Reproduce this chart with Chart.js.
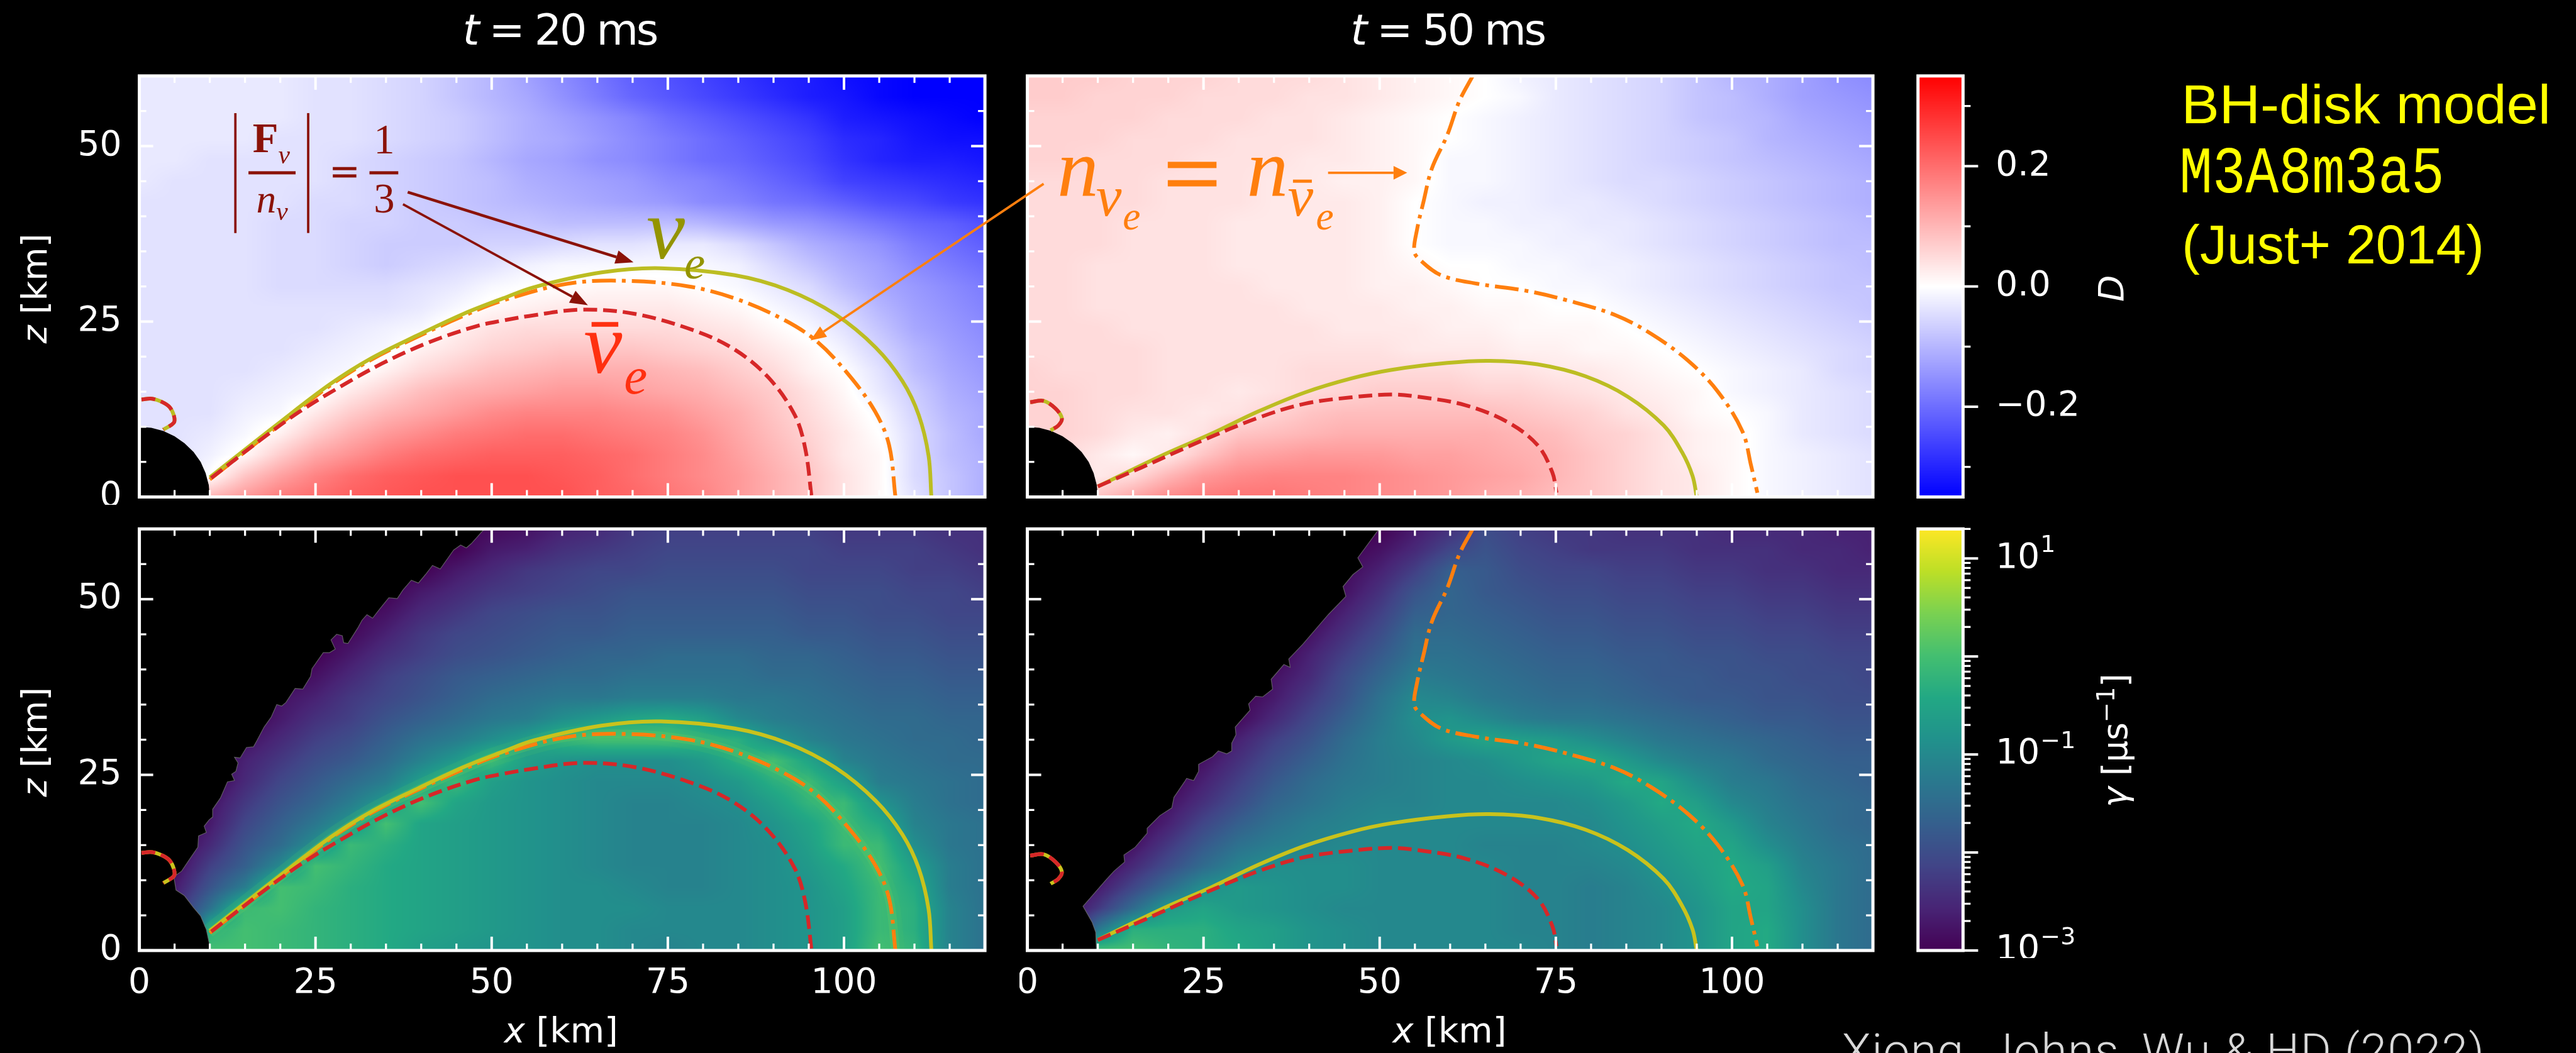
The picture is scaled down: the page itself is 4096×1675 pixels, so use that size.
<!DOCTYPE html>
<html><head><meta charset="utf-8">
<style>html,body{margin:0;padding:0;background:#000;width:4096px;height:1675px;overflow:hidden}canvas{position:absolute;display:block}svg{position:absolute;left:0;top:0}</style>
<script src="https://cdn.jsdelivr.net/npm/chart.js@4"></script>
</head><body>
<script>
// ---------- axes ----------
const gridX=[0,5,10,15,20,25,30,35,40,45,50,55,60,65,70,75,80,85,90,95,100,105,110,115,120];
const gridZ=[60,57,54,51,48,45,42,39,36,33,30,27,24,21,18,15,12,9,6,3,0];
const xMajor=[0,25,50,75,100], xMinor=[5,10,15,20,30,35,40,45,55,60,65,70,80,85,90,95,105,110,115];
const zMajor=[0,25,50], zMinor=[5,10,15,20,30,35,40,45,55];
const dTicks=[-0.2,0,0.2], dMinor=[-0.3,-0.1,0.1,0.3];
const gammaMajor=[1e-3,1e-2,1e-1,1,10];
const gammaMinor=[2e-3,3e-3,4e-3,5e-3,6e-3,7e-3,8e-3,9e-3,2e-2,3e-2,4e-2,5e-2,6e-2,7e-2,8e-2,9e-2,2e-1,3e-1,4e-1,5e-1,6e-1,7e-1,8e-1,9e-1,2,3,4,5,6,7,8,9,20];
const gammaLabelled=[[1e-3,'\u22123'],[1e-1,'\u22121'],[10,'1']];
// ---------- D x 100 at t=20 ms (rows z=60..0, columns x=0..120) ----------
const D20=[
[-3,-3,-3,-3,-3,-4,-4,-5,-6,-8,-10,-13,-16,-19,-22,-24,-26,-28,-30,-31,-33,-34,-35,-35,-35],
[-3,-3,-3,-3,-3,-4,-4,-5,-6,-8,-10,-12,-15,-18,-21,-23,-25,-27,-29,-31,-32,-34,-35,-35,-35],
[-3,-3,-3,-3,-3,-4,-4,-5,-6,-7,-9,-11,-13,-15,-17,-20,-22,-24,-26,-28,-31,-32,-33,-34,-35],
[-3,-3,-3,-3,-4,-4,-4,-5,-6,-7,-9,-11,-12,-14,-16,-18,-20,-22,-24,-26,-29,-30,-32,-33,-33],
[-3,-3,-4,-4,-4,-4,-5,-6,-7,-8,-10,-12,-13,-15,-16,-18,-20,-21,-23,-25,-28,-30,-31,-31,-32],
[-3,-4,-4,-4,-4,-4,-5,-6,-7,-8,-9,-11,-12,-13,-14,-16,-17,-19,-21,-23,-26,-27,-28,-29,-30],
[-4,-4,-4,-4,-4,-5,-5,-6,-7,-8,-9,-10,-11,-12,-13,-14,-16,-17,-19,-20,-22,-24,-25,-27,-28],
[-4,-4,-4,-4,-5,-5,-6,-6,-7,-7,-8,-8,-9,-9,-9,-9,-10,-12,-14,-15,-17,-19,-21,-22,-24],
[-4,-4,-4,-4,-5,-5,-6,-7,-7,-7,-6,-6,-5,-4,-4,-3,-3,-5,-8,-11,-13,-15,-18,-20,-22],
[-4,-4,-4,-4,-5,-5,-6,-7,-6,-5,-4,-2,-1,-1,-1,-1,-1,-2,-5,-8,-11,-13,-16,-18,-20],
[-4,-4,-4,-4,-5,-5,-5,-5,-4,-3,-1,0,0,1,1,1,0,-1,-3,-5,-9,-12,-14,-16,-18],
[-4,-4,-4,-4,-4,-4,-4,-4,-3,-1,1,2,3,3,3,3,2,1,-1,-3,-6,-10,-13,-15,-17],
[-4,-4,-4,-4,-4,-4,-3,-2,-1,2,4,5,5,5,5,5,4,3,1,-1,-4,-8,-12,-14,-16],
[-4,-4,-4,-4,-4,-3,-2,-1,2,4,6,7,8,8,8,7,6,5,3,1,-2,-6,-10,-13,-15],
[-4,-4,-4,-4,-3,-2,-1,2,5,7,9,10,11,11,11,10,9,7,5,2,0,-4,-9,-12,-14],
[-4,-4,-4,-3,-2,-1,3,6,9,11,12,13,14,14,13,12,11,9,7,4,1,-3,-7,-11,-13],
[-4,-4,-4,-2,-1,3,7,10,12,14,16,17,17,17,16,15,13,11,8,5,2,-1,-6,-10,-12],
[-4,-4,-3,-1,2,7,11,14,16,18,19,20,20,19,18,17,15,12,9,6,3,0,-5,-9,-12],
[-4,-4,-2,1,7,12,15,18,20,21,22,22,22,21,20,18,16,13,10,7,3,1,-5,-9,-11],
[-4,-4,0,8,13,17,20,22,23,24,24,24,23,22,20,18,16,14,11,8,4,1,-5,-8,-11],
[-4,-4,10,14,18,20,22,23,24,24,24,24,24,22,21,19,17,14,11,8,4,1,-4,-8,-11]];
// ---------- D x 100 at t=50 ms ----------
const D50=[
[7,7,7,6,6,6,5,5,5,4,3,2,1,0,-2,-3,-4,-5,-6,-8,-10,-11,-13,-15,-16],
[7,7,6,6,6,5,5,5,4,4,3,2,1,0,-1,-3,-4,-5,-6,-8,-9,-11,-13,-14,-15],
[6,6,6,6,5,5,5,4,4,3,2,1,0,-1,-2,-3,-4,-5,-6,-8,-9,-10,-12,-13,-14],
[6,6,6,5,5,5,4,4,4,3,2,1,0,-1,-2,-3,-4,-5,-6,-7,-8,-10,-11,-12,-13],
[6,6,5,5,5,4,4,4,3,3,2,1,-1,-1,-2,-3,-4,-5,-6,-7,-8,-9,-10,-11,-12],
[5,5,5,5,4,4,4,3,3,2,2,1,-1,-1,-2,-3,-4,-5,-5,-6,-7,-8,-9,-10,-11],
[5,5,5,5,4,4,4,3,3,3,2,0,-1,-2,-2,-3,-3,-4,-5,-6,-7,-8,-9,-10,-11],
[5,5,5,4,4,4,3,3,3,3,2,0,-1,-1,-2,-2,-3,-3,-4,-5,-6,-7,-8,-9,-10],
[5,5,5,4,4,4,3,3,3,3,2,0,-1,-1,-1,-2,-2,-3,-4,-5,-6,-7,-8,-9,-9],
[5,5,4,4,4,4,3,3,3,3,2,1,0,0,-1,-1,-2,-2,-3,-4,-5,-6,-7,-8,-9],
[5,5,4,4,4,4,4,3,3,3,2,2,1,0,0,-1,-1,-2,-3,-4,-5,-6,-7,-8,-8],
[5,5,4,4,4,4,4,4,3,3,3,2,2,1,1,0,0,-1,-2,-3,-4,-5,-6,-7,-8],
[5,5,5,4,4,4,4,4,4,3,3,3,2,2,1,1,1,0,-1,-2,-3,-4,-5,-6,-7],
[5,5,5,5,4,4,4,4,4,4,4,3,3,3,2,2,1,1,0,-1,-2,-3,-4,-5,-6],
[6,5,5,5,4,4,4,4,5,5,5,5,5,4,4,3,3,2,1,0,-1,-2,-3,-5,-6],
[6,6,5,5,4,4,3,4,5,6,7,7,7,6,6,5,4,3,2,1,-1,-2,-3,-4,-5],
[6,6,5,4,4,3,4,6,8,9,9,9,9,9,8,7,6,4,3,1,0,-1,-3,-4,-5],
[6,6,5,3,2,4,8,9,10,11,11,11,11,11,10,9,7,6,4,2,1,-1,-3,-4,-5],
[5,5,3,1,3,8,12,13,14,14,14,13,13,12,11,10,8,6,4,2,1,-1,-2,-3,-4],
[5,5,3,5,10,14,16,17,17,17,16,15,14,13,12,10,8,6,4,3,1,-1,-2,-3,-4],
[5,5,8,12,16,18,19,19,18,17,16,15,14,12,11,9,8,6,4,3,1,-1,-2,-3,-4]];
// ---------- log10(gamma) x 10 at t=20 ms ----------
const G20=[
[-30,-30,-30,-30,-30,-30,-30,-30,-30,-30,-29,-28,-26,-25,-23,-22,-22,-22,-22,-22,-23,-23,-23,-24,-24],
[-30,-30,-30,-30,-30,-30,-30,-30,-30,-30,-27,-26,-24,-23,-22,-21,-21,-21,-21,-21,-22,-22,-22,-23,-24],
[-30,-30,-30,-30,-30,-30,-30,-30,-30,-27,-25,-23,-22,-21,-21,-20,-20,-20,-20,-21,-21,-21,-22,-22,-23],
[-30,-30,-30,-30,-30,-30,-30,-30,-27,-25,-23,-22,-21,-20,-19,-19,-19,-19,-19,-20,-20,-20,-21,-21,-22],
[-30,-30,-30,-30,-30,-30,-30,-28,-25,-23,-21,-20,-19,-19,-18,-18,-18,-18,-18,-19,-19,-20,-20,-21,-21],
[-30,-30,-30,-30,-30,-30,-29,-26,-23,-21,-20,-19,-18,-18,-17,-17,-17,-17,-17,-18,-18,-19,-19,-20,-20],
[-30,-30,-30,-30,-30,-30,-27,-24,-22,-20,-19,-18,-17,-16,-16,-15,-15,-15,-16,-16,-17,-18,-18,-19,-19],
[-30,-30,-30,-30,-30,-28,-25,-22,-20,-18,-17,-16,-15,-15,-14,-14,-14,-14,-15,-15,-16,-17,-17,-18,-18],
[-30,-30,-30,-30,-28,-26,-23,-21,-19,-17,-15,-14,-13,-13,-12,-12,-12,-13,-13,-14,-15,-16,-16,-17,-17],
[-30,-30,-30,-30,-27,-24,-22,-19,-17,-15,-13,-12,-9,-7,-5,-4,-6,-10,-12,-13,-14,-15,-15,-16,-16],
[-30,-30,-30,-28,-25,-22,-20,-17,-14,-12,-9,-6,-2,0,0,0,-2,-3,-8,-11,-13,-14,-15,-15,-16],
[-30,-30,-30,-26,-23,-20,-18,-15,-11,-7,-1,-6,-8,-9,-9,-9,-7,-3,0,-5,-11,-13,-14,-15,-15],
[-30,-30,-30,-25,-21,-18,-15,-12,-6,-1,-6,-8,-9,-10,-10,-10,-9,-7,-3,-1,-6,-12,-13,-14,-15],
[-30,-30,-28,-23,-19,-16,-12,-7,0,-5,-7,-8,-9,-10,-11,-11,-10,-9,-6,-2,-1,-8,-12,-14,-15],
[-30,-30,-27,-21,-17,-13,-8,0,-5,-6,-7,-8,-9,-10,-11,-11,-11,-10,-8,-5,-1,-4,-11,-13,-14],
[-30,-30,-25,-19,-15,-9,-1,-3,-5,-6,-7,-8,-9,-10,-11,-11,-11,-10,-9,-6,-1,-1,-9,-13,-14],
[-30,-29,-22,-17,-10,0,-2,-4,-5,-6,-7,-8,-9,-10,-11,-11,-11,-10,-9,-7,-4,0,-6,-12,-14],
[-30,-27,-19,-12,0,-1,-3,-4,-5,-6,-7,-8,-9,-9,-10,-11,-11,-10,-9,-8,-5,-1,-4,-12,-14],
[-30,-25,-14,-1,0,-2,-3,-4,-5,-6,-7,-8,-9,-9,-9,-10,-10,-10,-9,-8,-6,-1,-3,-11,-14],
[-30,-30,-3,0,-1,-2,-3,-4,-5,-6,-7,-8,-9,-9,-10,-10,-10,-10,-9,-8,-6,-1,-3,-11,-14],
[-30,-30,0,0,-1,-2,-3,-4,-6,-7,-8,-8,-9,-9,-10,-11,-10,-10,-9,-8,-6,0,-2,-11,-14]];
// ---------- log10(gamma) x 10 at t=50 ms ----------
const G50=[
[-30,-30,-30,-30,-30,-30,-30,-30,-30,-30,-30,-27,-24,-20,-22,-23,-23,-24,-24,-24,-25,-25,-25,-26,-26],
[-30,-30,-30,-30,-30,-30,-30,-30,-30,-30,-28,-25,-21,-19,-21,-22,-23,-23,-23,-24,-24,-24,-25,-25,-26],
[-30,-30,-30,-30,-30,-30,-30,-30,-30,-29,-26,-22,-17,-18,-20,-21,-21,-22,-22,-23,-23,-24,-24,-25,-25],
[-30,-30,-30,-30,-30,-30,-30,-30,-30,-28,-24,-19,-16,-18,-19,-20,-20,-21,-21,-22,-22,-23,-23,-24,-24],
[-30,-30,-30,-30,-30,-30,-30,-30,-30,-26,-22,-17,-16,-17,-18,-19,-19,-20,-20,-21,-21,-22,-22,-23,-23],
[-30,-30,-30,-30,-30,-30,-30,-30,-28,-24,-20,-15,-15,-16,-17,-18,-18,-19,-19,-20,-20,-21,-21,-22,-22],
[-30,-30,-30,-30,-30,-30,-30,-30,-26,-22,-18,-14,-14,-15,-16,-17,-17,-18,-18,-19,-19,-20,-20,-21,-21],
[-30,-30,-30,-30,-30,-30,-30,-28,-25,-20,-16,-12,-13,-14,-15,-16,-16,-17,-18,-18,-19,-19,-20,-20,-21],
[-30,-30,-30,-30,-30,-30,-30,-27,-23,-19,-14,-10,-11,-13,-14,-15,-15,-16,-17,-18,-18,-19,-19,-20,-20],
[-30,-30,-30,-30,-30,-30,-29,-25,-21,-17,-13,-9,-8,-10,-12,-13,-13,-14,-15,-16,-17,-18,-18,-19,-19],
[-30,-30,-30,-30,-30,-30,-26,-22,-19,-15,-12,-10,-7,-5,-6,-7,-9,-11,-13,-14,-15,-16,-17,-18,-18],
[-30,-30,-30,-30,-30,-28,-24,-20,-17,-14,-12,-11,-10,-9,-7,-5,-4,-7,-10,-12,-13,-15,-16,-17,-17],
[-30,-30,-30,-30,-30,-26,-22,-18,-15,-13,-12,-11,-10,-10,-9,-8,-7,-4,-5,-9,-12,-13,-15,-16,-17],
[-30,-30,-30,-30,-28,-24,-20,-16,-14,-12,-11,-11,-10,-10,-10,-10,-9,-7,-4,-6,-10,-12,-14,-15,-16],
[-30,-30,-30,-30,-26,-21,-17,-14,-12,-11,-10,-10,-10,-10,-10,-10,-10,-8,-6,-4,-7,-11,-13,-15,-16],
[-30,-30,-30,-28,-23,-18,-14,-12,-11,-10,-10,-10,-10,-11,-11,-11,-10,-9,-7,-5,-5,-9,-12,-14,-15],
[-30,-30,-30,-25,-20,-15,-11,-9,-9,-9,-10,-10,-10,-10,-11,-11,-11,-10,-8,-6,-4,-6,-11,-13,-15],
[-30,-30,-27,-21,-15,-9,-7,-8,-9,-9,-10,-10,-10,-10,-11,-11,-12,-11,-9,-7,-4,-5,-10,-13,-15],
[-30,-30,-23,-15,-7,-5,-7,-8,-9,-10,-10,-10,-10,-10,-11,-11,-12,-11,-10,-8,-5,-5,-9,-13,-15],
[-30,-30,-13,-3,-3,-3,-5,-6,-8,-9,-10,-10,-10,-10,-11,-11,-12,-11,-10,-8,-5,-4,-9,-13,-15],
[-30,-30,0,0,-2,-3,-4,-6,-8,-9,-10,-10,-10,-10,-10,-11,-12,-11,-10,-8,-5,-4,-9,-13,-15]];
// ---------- contours [x km, z km] ----------
const nuE20=[[10,2.8],[19.5,10.3],[27.1,16.1],[32.8,19.7],[39.4,23],[46,26.1],[51.6,28.3],[56,29.9],[65.6,32],[74,32.6],[84.5,31.6],[92,29.5],[98.8,26],[104.5,21.3],[108.3,16.5],[110.6,11.7],[112,5.9],[112.4,0]];
const nuBar20=[[10.2,2.7],[17.8,8.6],[22.8,12.2],[27.8,15.3],[34.4,19],[41,22],[47.7,24.3],[51.4,25.1],[56,25.9],[62.7,26.7],[70.3,26.1],[78.8,23.7],[84.5,21],[89.3,17],[93,11.7],[94.5,6.9],[95.4,0]];
const cross20=[[10,2.5],[19.5,10],[27.1,15.9],[32.8,19.5],[39.4,22.8],[46,25.8],[51.3,27.9],[60.8,30.4],[69.4,30.8],[78,30],[84.5,28.3],[91.2,25.4],[96,22.3],[100.6,17.5],[104.4,12.2],[106.4,7.4],[107.3,0]];
const arc20=[[0.3,13.9],[1.8,14],[3.3,13.5],[4.3,12.8],[4.9,11.6],[4.9,10.6],[3.4,9.6]];
const nuE50=[[10,1.5],[19.5,6.1],[26.1,9],[32.8,12.2],[39.4,14.9],[46,16.9],[51.6,18.1],[59.6,19.1],[65.6,19.4],[72.4,18.9],[79.2,17.2],[85.2,14.3],[90.3,10.2],[92.9,6.4],[94.4,3],[95,0]];
const nuBar50=[[10,1.5],[16.2,4.2],[24.5,7.9],[32.8,11.3],[39.4,13.3],[46,14.2],[51.6,14.6],[55.3,14.3],[62.1,13.1],[68.1,10.7],[72.4,7.4],[74.5,3.5],[75.1,0.6]];
const cross50=[[63.2,60],[61.3,56.4],[59.6,51.6],[57.4,46.8],[56.2,42],[55.3,38.1],[54.9,35],[55.7,33.8],[58.7,31.6],[63.8,30.4],[70.7,29.4],[76.7,28],[83.5,25.9],[88.6,23.2],[93.8,19.4],[98,15],[101.5,9.3],[102.7,4.5],[103.6,0.6]];
const arc50=[[0.4,13.5],[2.3,13.7],[4,12.6],[4.9,11.2],[4.4,10.2],[3.3,9.5]];
// ---------- black regions [x km, z km] ----------
const holeBH=[[0,10],[1.7,9.85],[3.4,9.4],[5,8.66],[6.4,7.66],[7.7,6.4],[8.7,5],[9.4,3.4],[9.85,1.7],[10,0],[0,0]];
const hole20=[[0,0],[10,0],[9.9,1.1],[9.5,3],[8.7,4.9],[7.7,6.1],[6.4,7.8],[5.2,8.6],[4.9,10.5],[6,11.3],[7,12.8],[8.3,14.7],[8.4,16.3],[9.5,16.8],[9.2,17.7],[9.9,18.6],[10.4,19],[10.4,20.1],[11.5,21.7],[12.5,24],[13.5,24.2],[13.1,25.1],[13.7,25.5],[14,26.7],[13.5,27.5],[14.3,27.4],[15.2,28.9],[16.2,29],[16.7,29.9],[17.7,31.8],[18.7,33.2],[19.5,35],[20.2,34.8],[20.8,35.3],[22.1,37.3],[23.2,37.2],[24.3,39],[24.5,40.1],[26.1,42.4],[27,42.4],[27.8,42.9],[27.2,44.2],[28,45],[28.8,44.8],[29,43.8],[29.6,43.7],[31,45.9],[31.6,47],[32.3,47.8],[33.1,47.3],[34.1,48.6],[35.4,50.2],[36.6,50.1],[37.4,51.3],[38.6,52.7],[39.6,52.3],[40.6,53.5],[41.6,54.8],[42.7,54.3],[44.6,57],[45.6,57.7],[46.4,57.3],[47.1,57.9],[48.7,59.7],[49,60],[0,60]];
const hole50=[[0,0],[9.8,0],[9.7,2.6],[9.2,4],[7.9,6.3],[9.2,7.8],[11.2,10.1],[12.3,11.3],[13.8,12.6],[13.7,13.6],[15.3,14.7],[17,16.7],[17,17.4],[18.8,19.2],[20.5,20.3],[20.8,21.8],[22.3,24],[22.6,24.5],[23.6,24.2],[24.3,25.5],[24.3,26.5],[26.3,27.6],[27.1,28.4],[28.3,28],[29,28.4],[29,29.5],[29.6,30.7],[29.5,31.8],[31.6,34.2],[31.4,35.1],[32.4,36.2],[33.4,36.1],[34.8,37.2],[34.6,38.6],[36.4,40.7],[37.3,40.3],[37.1,41.5],[39.1,43.6],[42.7,47.8],[45.2,50.4],[44.8,51.8],[46.2,53.5],[47.6,54.6],[46.9,55.9],[49.7,59.7],[50,60],[0,60]];
// ---------- colours ----------
const viridisStops=['#440154','#482475','#414487','#355f8d','#2a788e','#21918c','#22a884','#44bf70','#7ad151','#bddf26','#fde725'];
const dRange=35, gammaLogMin=-30, gammaLogMax=13.01;

const W=4096,H=1675,S=4096/4917;
const hex=h=>[parseInt(h.slice(1,3),16),parseInt(h.slice(3,5),16),parseInt(h.slice(5,7),16)];
const vir=viridisStops.map(hex);
function bwrColor(v){const t=Math.max(-1,Math.min(1,v/dRange));
  return t>=0?[255,255*(1-t),255*(1-t)]:[255*(1+t),255*(1+t),255];}
function viridisColor(v){let t=(v-gammaLogMin)/(gammaLogMax-gammaLogMin)*10;t=Math.max(0,Math.min(9.9999,t));
  const i=Math.floor(t),f=t-i,a=vir[i],b=vir[i+1];return [a[0]+(b[0]-a[0])*f,a[1]+(b[1]-a[1])*f,a[2]+(b[2]-a[2])*f];}

function locate(p,n0,len){
  const idx=new Int32Array(len),fr=new Float32Array(len);
  const asc=p[p.length-1]>p[0];
  for(let i=0;i<len;i++){const q=n0+i+0.5;let k=0;
    if(asc){while(k<p.length-2&&q>p[k+1])k++;}else{while(k<p.length-2&&q<p[k+1])k++;}
    idx[i]=k;fr[i]=Math.max(0,Math.min(1,(q-p[k])/(p[k+1]-p[k])));}
  return [idx,fr];
}
class HeatController extends Chart.ScatterController{
  draw(){
    const meta=this._cachedMeta,ds=this.getDataset(),ctx=this.chart.ctx,a=this.chart.chartArea;
    const x0=Math.floor(a.left),y0=Math.floor(a.top),w=Math.ceil(a.right)-x0,h=Math.ceil(a.bottom)-y0;
    const [ix,fx]=locate(ds.xs.map(v=>meta.xScale.getPixelForValue(v)),x0,w);
    const [iy,fy]=locate(ds.zs.map(v=>meta.yScale.getPixelForValue(v)),y0,h);
    const off=document.createElement('canvas');off.width=w;off.height=h;
    const oc=off.getContext('2d'),img=oc.createImageData(w,h),d=img.data,vals=ds.vals,col=ds.colorMap==='bwr'?bwrColor:viridisColor;
    for(let j=0,o=0;j<h;j++){const r0=vals[iy[j]],r1=vals[iy[j]+1],g=fy[j];
      for(let i=0;i<w;i++,o+=4){const k=ix[i],f=fx[i];
        const v=(r0[k]*(1-f)+r0[k+1]*f)*(1-g)+(r1[k]*(1-f)+r1[k+1]*f)*g;
        const c=col(v);d[o]=c[0];d[o+1]=c[1];d[o+2]=c[2];d[o+3]=255;}}
    oc.putImageData(img,0,0);ctx.drawImage(off,x0,y0);
  }
}
HeatController.id='heat';HeatController.defaults=Chart.ScatterController.defaults;HeatController.overrides=Chart.ScatterController.overrides;
class RegionController extends Chart.ScatterController{
  draw(){const meta=this._cachedMeta,ds=this.getDataset(),ctx=this.chart.ctx;
    ctx.save();ctx.beginPath();
    ds.data.forEach((p,i)=>{const X=meta.xScale.getPixelForValue(p.x),Y=meta.yScale.getPixelForValue(p.y);i?ctx.lineTo(X,Y):ctx.moveTo(X,Y);});
    ctx.closePath();ctx.fillStyle=ds.regionColor;ctx.fill();
    if(ds.regionEdge){ctx.strokeStyle=ds.regionEdge;ctx.lineWidth=1.2;ctx.stroke();}
    ctx.restore();}
}
RegionController.id='region';RegionController.defaults=Chart.ScatterController.defaults;RegionController.overrides=Chart.ScatterController.overrides;
Chart.register(HeatController,RegionController);

const pts=a=>a.map(p=>({x:p[0],y:p[1]}));
function cells(xs,zs,vals){const o=[];zs.forEach((z,j)=>xs.forEach((x,i)=>o.push({x,y:z,v:vals[j][i]})));return o;}
const line=(a,color,lw,dash,order)=>({type:'scatter',showLine:true,data:pts(a),borderColor:color,borderWidth:lw,borderDash:dash||[],pointRadius:0,tension:0.35,fill:false,order,borderCapStyle:'butt'});

const framePlugin={id:'frameTicks',afterDatasetsDraw(c,_,o){
  const a=c.chartArea,x=c.ctx,sx=c.scales.x,sy=c.scales.y;
  x.save();x.strokeStyle='#fff';
  const fw=5;
  if(o.inner){
    const seg=(x1,y1,x2,y2,lw)=>{x.lineWidth=lw;x.beginPath();x.moveTo(x1,y1);x.lineTo(x2,y2);x.stroke();};
    xMajor.forEach(v=>{const p=sx.getPixelForValue(v);seg(p,a.bottom,p,a.bottom-22,4);if(v)seg(p,a.top,p,a.top+22,4);});
    xMinor.forEach(v=>{const p=sx.getPixelForValue(v);seg(p,a.bottom,p,a.bottom-11,3.2);seg(p,a.top,p,a.top+11,3.2);});
    zMajor.forEach(v=>{const p=sy.getPixelForValue(v);seg(a.left,p,a.left+22,p,4);seg(a.right,p,a.right-22,p,4);});
    zMinor.forEach(v=>{const p=sy.getPixelForValue(v);seg(a.left,p,a.left+11,p,3.2);seg(a.right,p,a.right-11,p,3.2);});
  }
  if(o.outMajor){
    const seg=(p,len,lw)=>{x.lineWidth=lw;x.beginPath();x.moveTo(a.right,p);x.lineTo(a.right+len,p);x.stroke();};
    o.outMajor.forEach(v=>seg(sy.getPixelForValue(v),24,4));
    o.outMinor.forEach(v=>seg(sy.getPixelForValue(v),12,3.2));
  }
  if(o.logLabels){x.fillStyle='#fff';x.textBaseline='middle';x.textAlign='left';
    o.logLabels.forEach(([v,e])=>{const p=sy.getPixelForValue(v),lx=a.right+52;
      x.font='55px "DejaVu Sans"';x.fillText('10',lx,p);
      x.font='38px "DejaVu Sans"';x.fillText(e,lx+71,p-20);});}
  x.lineWidth=fw;x.strokeRect(a.left,a.top,a.right-a.left,a.bottom-a.top);
  x.restore();
}};

function makeChart(rect,datasets,opt){
  const L=rect[0]*S,T=rect[1]*S,R=rect[2]*S,B=rect[3]*S;
  const ml=opt.ml,mr=opt.mr,mb=opt.mb,mt=12;
  const cl=Math.floor(L-ml),ct=Math.floor(T-mt),cr=Math.ceil(R+mr),cb=Math.ceil(B+mb);
  const cv=document.createElement('canvas');cv.width=cr-cl;cv.height=cb-ct;
  cv.style.left=cl+'px';cv.style.top=ct+'px';cv.style.width=(cr-cl)+'px';cv.style.height=(cb-ct)+'px';
  document.body.appendChild(cv);
  const noPad=s=>{s.paddingLeft=s.paddingRight=s.paddingTop=s.paddingBottom=0;};
  const font={family:'"DejaVu Sans"',size:55};
  const cfg={type:'scatter',data:{datasets},plugins:[framePlugin],options:{
    responsive:false,animation:false,devicePixelRatio:1,events:[],
    layout:{autoPadding:false,padding:{top:T-ct,left:opt.side==='bar'?L-cl:0,right:opt.side==='bar'?0:cr-R,bottom:opt.side==='bar'?cb-B:0}},
    plugins:{legend:{display:false},tooltip:{enabled:false},title:{display:false},frameTicks:opt.frame},
    scales:opt.side==='bar'?{
      x:{type:'linear',display:false,min:0,max:1},
      y:Object.assign({position:'right',grid:{display:false,drawTicks:false},border:{display:false},
        afterFit(s){s.width=cr-R;noPad(s);}},opt.y)
    }:{
      x:{type:'linear',min:0,max:120,position:'bottom',grid:{display:false,drawTicks:false},border:{display:false},
        afterBuildTicks(s){s.ticks=xMajor.map(value=>({value}));},
        afterFit(s){s.height=cb-B;noPad(s);},
        ticks:{display:!!opt.xLabels,color:'#fff',font,padding:20,autoSkip:false,maxRotation:0,minRotation:0}},
      y:{type:'linear',min:0,max:60,position:'left',grid:{display:false,drawTicks:false},border:{display:false},
        afterBuildTicks(s){s.ticks=zMajor.map(value=>({value}));},
        afterFit(s){s.width=L-cl;noPad(s);},
        ticks:{display:!!opt.yLabels,color:'#fff',font,padding:28,autoSkip:false}}
    }}};
  return new Chart(cv.getContext('2d'),cfg);
}
const panelDs=(vals,map,hole,nu,bar,cr,arc,olive,edge,glow)=>{
  const out=[{type:'heat',data:cells(gridX,gridZ,vals),xs:gridX,zs:gridZ,vals,colorMap:map,pointRadius:0,order:20},
   {type:'region',data:pts(hole),regionColor:'#000',regionEdge:edge,pointRadius:0,order:15},
   line(cr,'#ff7f0e',6,[38,9.6,6,9.6],5),
   line(nu,olive,6,[],4),line(arc,olive,6,[],3),
   line(bar,'#d62728',6,[22,9.5],2),line(arc,'#d62728',6,[22,9.5],1)];
  if(glow){out.push(line(glow,'rgba(68,191,112,0.20)',30,[],12));out.push(line(glow,'rgba(94,201,98,0.35)',14,[],11));}
  return out;
};
const pL1=266,pR1=1880,pL2=1961,pR2=3575,pT1=145,pB1=949,pT2=1010,pB2=1815,cL=3661,cR=3747;
makeChart([pL1,pT1,pR1,pB1],panelDs(D20,'bwr',holeBH,nuE20,nuBar20,cross20,arc20,'#bcbd22'),{ml:150,mr:12,mb:12,yLabels:true,frame:{inner:true}});
makeChart([pL2,pT1,pR2,pB1],panelDs(D50,'bwr',holeBH,nuE50,nuBar50,cross50,arc50,'#bcbd22'),{ml:12,mr:12,mb:12,frame:{inner:true}});
makeChart([pL1,pT2,pR1,pB2],panelDs(G20,'vir',hole20,nuE20,nuBar20,cross20,arc20,'#c9c21c','rgba(110,110,110,0.8)',cross20),{ml:150,mr:12,mb:100,yLabels:true,xLabels:true,frame:{inner:true}});
makeChart([pL2,pT2,pR2,pB2],panelDs(G50,'vir',hole50,nuE50,nuBar50,cross50,arc50,'#c9c21c','rgba(110,110,110,0.8)'),{ml:12,mr:12,mb:100,xLabels:true,frame:{inner:true}});

const cbarD=[0,1], cbarLevelsD=[0.35,-0.35], cbarValsD=[[35,35],[-35,-35]];
const cbarLevelsG=[20,1e-3], cbarValsG=[[13.01,13.01],[-30,-30]];
makeChart([cL,pT1,cR,pB1],[{type:'heat',data:cells(cbarD,cbarLevelsD,cbarValsD),xs:cbarD,zs:cbarLevelsD,vals:cbarValsD,colorMap:'bwr',pointRadius:0}],
 {side:'bar',ml:12,mr:220,mb:12,frame:{outMajor:dTicks,outMinor:dMinor},
  y:{type:'linear',min:-0.35,max:0.35,afterBuildTicks(s){s.ticks=dTicks.map(value=>({value}));},
     ticks:{color:'#fff',font:{family:'"DejaVu Sans"',size:55},padding:52,callback:v=>v===0?'0.0':(v<0?'\u2212':'')+Math.abs(v).toFixed(1)}}});
makeChart([cL,pT2,cR,pB2],[{type:'heat',data:cells(cbarD,cbarLevelsG,cbarValsG),xs:cbarD,zs:cbarLevelsG,vals:cbarValsG,colorMap:'vir',pointRadius:0}],
 {side:'bar',ml:12,mr:220,mb:12,frame:{outMajor:gammaMajor,outMinor:gammaMinor,logLabels:gammaLabelled},
  y:{type:'logarithmic',min:1e-3,max:20,afterBuildTicks(s){s.ticks=gammaMajor.map(value=>({value}));},ticks:{display:false}}});

// ---------- annotations and axis titles, in reference pixels ----------
const DV='font-family="DejaVu Sans" fill="#fff"',SER='font-family="Liberation Serif"';
function arrow(x1,y1,x2,y2,c,lw,hl,hw){const a=Math.atan2(y2-y1,x2-x1),cs=Math.cos(a),sn=Math.sin(a);
  const bx=x2-hl*cs,by=y2-hl*sn;
  return `<line x1="${x1}" y1="${y1}" x2="${bx}" y2="${by}" stroke="${c}" stroke-width="${lw}"/>`+
   `<polygon fill="${c}" points="${x2},${y2} ${bx-hw*sn},${by+hw*cs} ${bx+hw*sn},${by-hw*cs}"/>`;}
const dk='#8b1208',org='#ff7f0e';
const rotT=(x,y,body,extra)=>`<text transform="translate(${x},${y}) rotate(-90)" text-anchor="middle" ${DV} ${extra||''}>${body}</text>`;
const zLabel='<tspan font-style="italic">z</tspan> [km]';
let svg=`<svg width="${W}" height="${H}" viewBox="0 0 4917 2011" xmlns="http://www.w3.org/2000/svg">`+
`<text x="1070" y="85" text-anchor="middle" ${DV} font-size="82" textLength="374"><tspan font-style="italic">t</tspan> = 20 ms</text>`+
`<text x="2765" y="85" text-anchor="middle" ${DV} font-size="82" textLength="374"><tspan font-style="italic">t</tspan> = 50 ms</text>`+
rotT(89,551,zLabel,'font-size="66"')+rotT(89,1417,zLabel,'font-size="66"')+
`<text x="1071" y="1990" text-anchor="middle" ${DV} font-size="67"><tspan font-style="italic">x</tspan> [km]</text>`+
`<text x="2767" y="1990" text-anchor="middle" ${DV} font-size="67"><tspan font-style="italic">x</tspan> [km]</text>`+
rotT(4053,551,'<tspan font-style="italic">D</tspan>','font-size="66"')+
rotT(4060,1414,'<tspan font-style="italic">γ</tspan> [μs<tspan dy="-24" font-size="46">−1</tspan><tspan dy="24">]</tspan>','font-size="66"')+
`<text x="4164" y="235" font-family="Liberation Sans" font-size="104" fill="#ffff00" textLength="705" lengthAdjust="spacingAndGlyphs">BH-disk model</text>`+
`<text x="4160" y="367" font-family="Liberation Mono" font-size="127" fill="#ffff00" textLength="506" lengthAdjust="spacingAndGlyphs">M3A8m3a5</text>`+
`<text x="4165" y="503" font-family="Liberation Sans" font-size="104" fill="#ffff00" textLength="577" lengthAdjust="spacingAndGlyphs">(Just+ 2014)</text>`+
`<text x="3516" y="2038" font-family="Roboto" font-weight="300" font-size="90" fill="#d8d8d8" textLength="1226">Xiong, Johns, Wu &amp; HD (2022)</text>`+
`<g stroke="${dk}" stroke-width="4.5"><line x1="449" y1="216" x2="449" y2="445"/><line x1="588" y1="216" x2="588" y2="445"/></g>`+
`<g fill="${dk}"><rect x="474" y="327" width="90" height="6"/><rect x="705" y="327" width="55" height="6"/><rect x="635" y="319" width="45" height="6"/><rect x="635" y="333" width="45" height="6"/></g>`+
`<g ${SER} fill="${dk}"><text x="482" y="290" font-weight="bold" font-size="80">F</text><text x="531" y="312" font-style="italic" font-size="50">ν</text>`+
`<text x="489" y="406" font-style="italic" font-size="76">n</text><text x="527" y="420" font-style="italic" font-size="50">ν</text>`+
`<text x="733" y="293" text-anchor="middle" font-size="80">1</text><text x="733" y="406" text-anchor="middle" font-size="80">3</text></g>`+
arrow(778,367,1209,501,dk,5.5,34,13)+arrow(769,390,1122,583,dk,4.5,34,13)+
`<g ${SER} font-style="italic"><text x="1234" y="493" font-size="165" fill="#949400">ν</text><text x="1306" y="532" font-size="90" fill="#949400">e</text>`+
`<text x="1114" y="712" font-size="165" fill="#ff3010">ν</text><text x="1191" y="751" font-size="100" fill="#ff3010">e</text></g>`+
`<rect x="1129" y="615" width="51" height="9" fill="#ff3010"/>`+
`<g ${SER} font-style="italic" fill="${org}"><text x="2018" y="374" font-size="158">n</text><text x="2092" y="412" font-size="110">ν</text><text x="2143" y="438" font-size="76">e</text>`+
`<text x="2380" y="374" font-size="158">n</text><text x="2458" y="412" font-size="110">ν</text><text x="2512" y="438" font-size="76">e</text></g>`+
`<g fill="${org}"><rect x="2229" y="309" width="93" height="12"/><rect x="2229" y="344" width="93" height="12"/><rect x="2468" y="343" width="36" height="6"/></g>`+
arrow(2535,330,2686,330,org,4.5,26,13)+arrow(1992,351,1547,650,org,4.5,30,12)+
`</svg>`;
document.body.insertAdjacentHTML('beforeend',svg);
</script>
</body></html>
